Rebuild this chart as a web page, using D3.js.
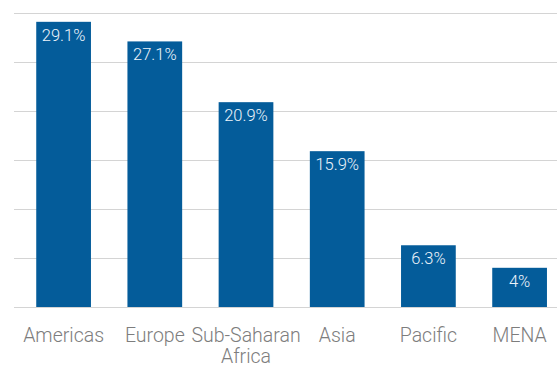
<!DOCTYPE html>
<html>
<head>
<meta charset="utf-8">
<script src="https://cdn.jsdelivr.net/npm/d3@7"></script>
<style>
  html, body { margin: 0; padding: 0; background: #ffffff; }
  svg { display: block; font-family: Roboto, "Open Sans", sans-serif; }
</style>
</head>
<body>
<svg id="chart" width="557" height="367"></svg>
<script>
// Regional share of the total, in percent
const regions = ["Americas", "Europe", "Sub-Saharan Africa", "Asia", "Pacific", "MENA"];
const shares = [29.1, 27.1, 20.9, 15.9, 6.3, 4];
const valueLabels = ["29.1%", "27.1%", "20.9%", "15.9%", "6.3%", "4%"];
const gridTicks = [0, 5, 10, 15, 20, 25, 30];

const svg = d3.select("#chart");
const baseY = 307, topY = 13;

const x = d3.scaleBand()
  .domain(regions)
  .range([18, 18 + 6 * 91.2])
  .paddingInner(0.4)
  .paddingOuter(0.2);

const y = d3.scaleLinear().domain([0, 30]).range([baseY, topY]);

// Horizontal gridlines
const yAxis = d3.axisLeft(y).tickValues(gridTicks).tickSize(-(557 - 14)).tickFormat("");
const gy = svg.append("g").attr("transform", "translate(14,0)").call(yAxis);
gy.select(".domain").remove();
gy.selectAll(".tick line").attr("stroke", "#d4d4d4").attr("stroke-width", 1.2);

// Bars
svg.append("g").selectAll("rect")
  .data(shares)
  .join("rect")
  .attr("x", (d, i) => x(regions[i]))
  .attr("y", d => y(d))
  .attr("width", x.bandwidth())
  .attr("height", d => baseY - y(d))
  .attr("fill", "#045c9a");

// Value labels inside the bar tops
svg.append("g").selectAll("text")
  .data(shares)
  .join("text")
  .attr("x", (d, i) => x(regions[i]) + x.bandwidth() / 2)
  .attr("y", d => y(d) + 19)
  .attr("text-anchor", "middle")
  .attr("font-size", 16.5)
  .attr("font-weight", 300)
  .attr("fill", "#eef4fa")
  .text((d, i) => valueLabels[i]);

// Category labels along the bottom
const xAxis = d3.axisBottom(x).tickSize(0).tickPadding(0);
const gx = svg.append("g").attr("transform", `translate(0,${baseY})`).call(xAxis);
gx.select(".domain").remove();
gx.selectAll(".tick text").remove();
gx.selectAll(".tick").each(function (name) {
  const parts = name === "Sub-Saharan Africa" ? ["Sub-Saharan", "Africa"] : [name];
  const t = d3.select(this).append("text")
    .attr("text-anchor", "middle")
    .attr("font-family", "Roboto, sans-serif")
    .attr("font-size", 19.5)
    .attr("font-weight", 300)
    .attr("fill", "#7d7d7d");
  parts.forEach((p, k) => {
    t.append("tspan").attr("x", 0).attr("y", 35 + k * 21).text(p);
  });
});
</script>
</body>
</html>
